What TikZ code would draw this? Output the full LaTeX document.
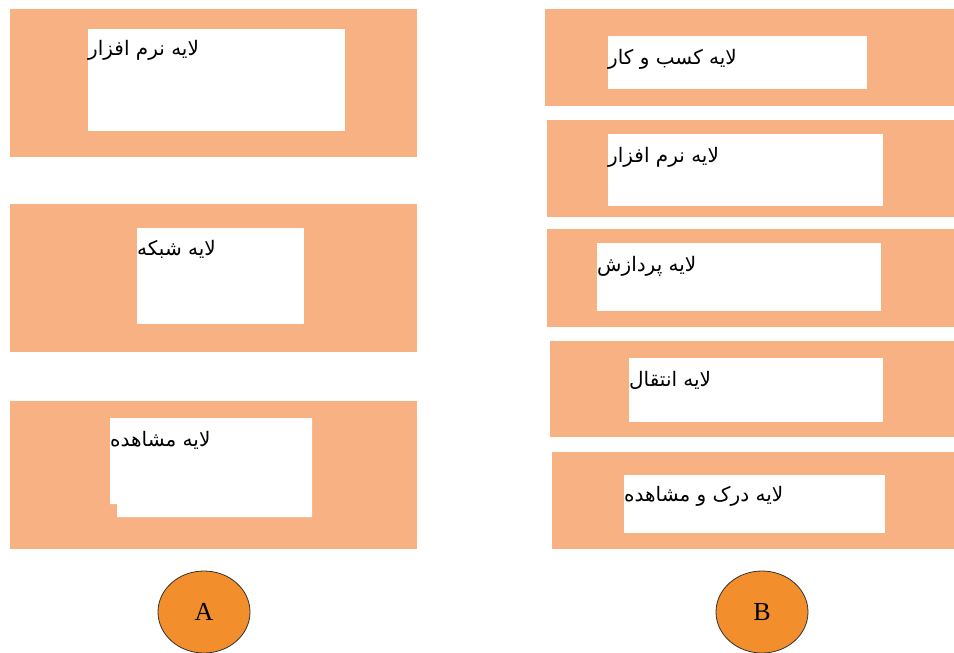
\documentclass[tikz,border=0pt]{standalone}
\usepackage{fontspec}
\TeXXeTstate=1
\newfontfamily\arabicfont[Script=Arabic]{DejaVu Sans}
\newfontfamily\letterfont{Liberation Serif}
\definecolor{layerbg}{HTML}{F7B183}
\definecolor{circfill}{HTML}{F28E2B}
\tikzset{
  layer/.style={fill=layerbg},
  inbox/.style={fill=white},
  lbl/.style={anchor=west, inner sep=0pt, font=\arabicfont\fontsize{20}{24}\selectfont},
  tag/.style={draw=black!80, line width=0.8pt, fill=circfill},
}
\begin{document}
\begin{tikzpicture}[x=1pt,y=-1pt]
\useasboundingbox (0,0) rectangle (954,653);
% column A
\fill[layer] (10,9) rectangle (417,157);
\fill[inbox] (88,29) rectangle (345,131);
\fill[layer] (10,204) rectangle (417,352);
\fill[inbox] (137,228) rectangle (304,324);
\fill[layer] (10,401) rectangle (417,549);
\fill[inbox] (110,418) -- (312,418) -- (312,517) -- (117,517) -- (117,504) -- (110,504) -- cycle;
\node[lbl] (a1) at (88,50) {\beginR لایه نرم افزار\endR};
\node[lbl] (a2) at (137,249) {\beginR لایه شبکه\endR};
\node[lbl] (a3) at (110,440) {\beginR لایه مشاهده\endR};
% column B
\fill[layer] (545,9) rectangle (954,106);
\fill[inbox] (608,36) rectangle (867,89);
\fill[layer] (547,120) rectangle (954,217);
\fill[inbox] (608,134) rectangle (883,206);
\fill[layer] (547,229) rectangle (954,327);
\fill[inbox] (597,243) rectangle (881,311);
\fill[layer] (550,341) rectangle (954,437);
\fill[inbox] (629,358) rectangle (883,422);
\fill[layer] (552,452) rectangle (954,549);
\fill[inbox] (624,475) rectangle (885,533);
\node[lbl] (b1) at (608,59) {\beginR لایه کسب و کار\endR};
\node[lbl] (b2) at (608,157) {\beginR لایه نرم افزار\endR};
\node[lbl] (b3) at (597,266) {\beginR لایه پردازش\endR};
\node[lbl] (b4) at (629,380) {\beginR لایه انتقال\endR};
\node[lbl] (b5) at (624,496) {\beginR لایه درک و مشاهده\endR};
% labels
\draw[tag] (204,612) ellipse [x radius=46, y radius=41];
\draw[tag] (762,612) ellipse [x radius=46, y radius=41];
\node[font=\letterfont\fontsize{26}{30}\selectfont] (A) at (204,612) {A};
\node[font=\letterfont\fontsize{26}{30}\selectfont] (B) at (762,612) {B};
\end{tikzpicture}
\end{document}
